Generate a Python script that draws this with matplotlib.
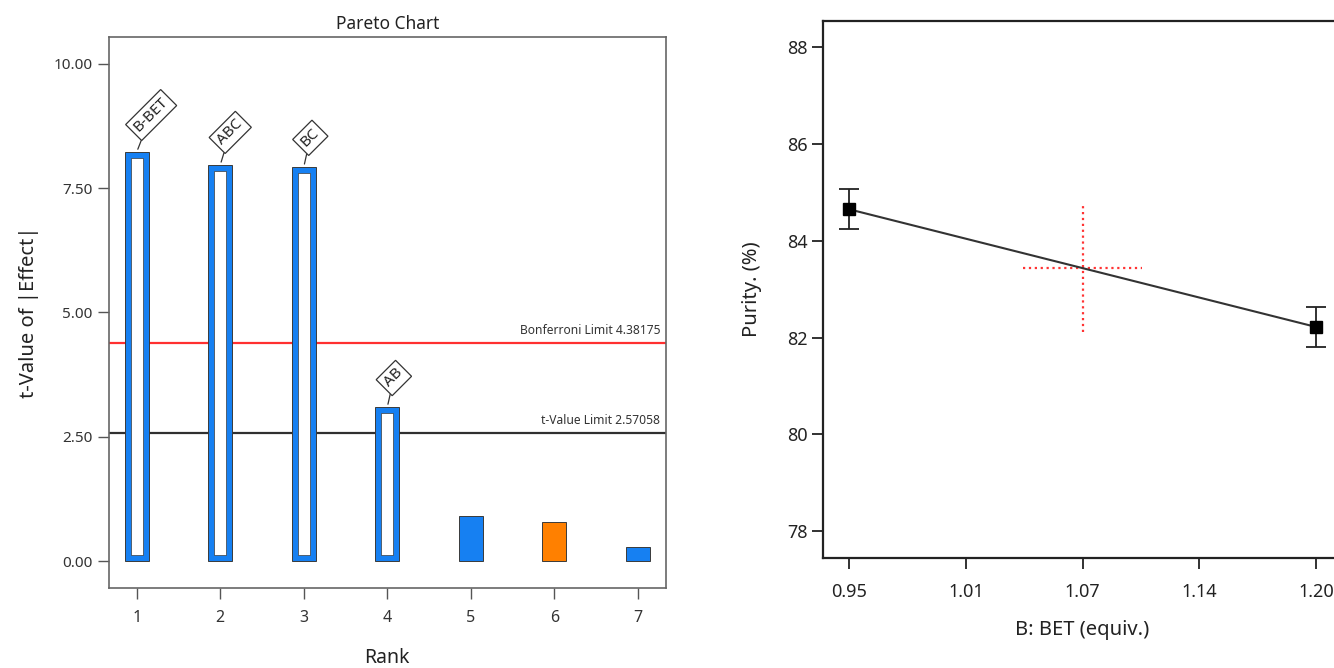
import numpy as np
import matplotlib
matplotlib.use("Agg")
import matplotlib.pyplot as plt
from matplotlib.ticker import FixedLocator, FormatStrFormatter

plt.rcParams['font.family'] = ['Noto Sans', 'DejaVu Sans']

# Pareto chart of effects
ranks = [1, 2, 3, 4, 5, 6, 7]
t_values = [8.23, 7.97, 7.93, 3.10, 0.905, 0.79, 0.29]
effect_names = ['B-BET', 'ABC', 'BC', 'AB', '', '', '']
bar_colors = ['#1680f2', '#1680f2', '#1680f2', '#1680f2', '#1680f2', '#ff8000', '#1680f2']
hollow = [True, True, True, True, False, False, False]
bonferroni_limit = 4.38175
t_limit = 2.57058

# One-factor plot: purity vs BET equivalents
bet_levels = [0.95, 1.20]
purity_mean = [84.65, 82.22]
purity_err = [0.41, 0.41]
center_x = 1.075
center_y = 83.435
center_dx = 0.032
center_dy = 1.33
bet_ticks = [0.95, 1.0125, 1.075, 1.1375, 1.20]
bet_ticklabels = ['0.95', '1.01', '1.07', '1.14', '1.20']
purity_ticks = [78, 80, 82, 84, 86, 88]

fig = plt.figure(figsize=(13.34, 6.68), dpi=100)

# ---- left: pareto chart ----
ax1 = fig.add_axes([0.0817, 0.1198, 0.4173, 0.8249])
bar_w = 0.29
pad_x, pad_y = 0.072, 0.12
ax1.bar(ranks, t_values, width=bar_w, color=bar_colors, edgecolor='#3a3a3a', linewidth=0.7, zorder=3)
for r, t, h in zip(ranks, t_values, hollow):
    if h:
        ax1.bar(r, t - 2 * pad_y, bottom=pad_y, width=bar_w - 2 * pad_x,
                color='white', edgecolor='#3a3a3a', linewidth=0.5, zorder=4)

ax1.axhline(bonferroni_limit, color='#ff3030', linewidth=1.6, zorder=2)
ax1.axhline(t_limit, color='#303030', linewidth=1.6, zorder=2)
ax1.text(7.27, bonferroni_limit + 0.12, f'Bonferroni Limit {bonferroni_limit}',
         ha='right', va='bottom', fontsize=8.7, color='#333333')
ax1.text(7.27, t_limit + 0.12, f't-Value Limit {t_limit}',
         ha='right', va='bottom', fontsize=8.7, color='#333333')

for r, t, name in zip(ranks, t_values, effect_names):
    if not name:
        continue
    ax1.annotate(name, xy=(r, t), xytext=(3.5, 12), textcoords='offset points',
                 rotation=45, rotation_mode='anchor', ha='left', va='bottom',
                 fontsize=11, color='#222222',
                 bbox=dict(boxstyle='square,pad=0.25', fc='white', ec='#333333', lw=0.9),
                 arrowprops=dict(arrowstyle='-', color='#333333', lw=0.9,
                                 shrinkA=0, shrinkB=2))

ax1.set_xlim(0.667, 7.333)
ax1.set_ylim(-0.54, 10.54)
ax1.set_xticks(ranks)
ax1.yaxis.set_major_locator(FixedLocator([0, 2.5, 5, 7.5, 10]))
ax1.yaxis.set_major_formatter(FormatStrFormatter('%.2f'))
ax1.tick_params(direction='out', length=8, width=1.0, color='#555555',
                labelsize=11, labelcolor='#333333', pad=4)
ax1.tick_params(axis='x', pad=8, labelsize=11.5)
for s in ax1.spines.values():
    s.set_color('#666666')
    s.set_linewidth(1.2)
ax1.set_title('Pareto Chart', fontsize=12.5, color='#222222', pad=6)
ax1.set_xlabel('Rank', fontsize=14, color='#222222', labelpad=16)
ax1.set_ylabel('t-Value of |Effect|', fontsize=14.5, color='#222222', labelpad=10)

# ---- right: one factor plot ----
ax2 = fig.add_axes([0.617, 0.165, 0.389, 0.8035])
ax2.plot(bet_levels, purity_mean, color='#333333', linewidth=1.5, zorder=3)
ax2.errorbar(bet_levels, purity_mean, yerr=purity_err, fmt='s', color='black',
             markersize=8, ecolor='#222222', elinewidth=1.3, capsize=7, capthick=1.3, zorder=4)
ax2.plot([center_x - center_dx, center_x + center_dx], [center_y, center_y],
         color='#ff3333', linestyle=':', linewidth=1.6, zorder=2)
ax2.plot([center_x, center_x], [center_y - center_dy, center_y + center_dy],
         color='#ff3333', linestyle=':', linewidth=1.6, zorder=2)

ax2.set_xlim(0.936, 1.214)
ax2.set_ylim(77.45, 88.54)
ax2.xaxis.set_major_locator(FixedLocator(bet_ticks))
ax2.set_xticklabels(bet_ticklabels)
ax2.yaxis.set_major_locator(FixedLocator(purity_ticks))
ax2.tick_params(direction='out', length=8, width=1.3, color='#222222',
                labelsize=13, labelcolor='#222222', pad=3)
ax2.tick_params(axis='x', pad=10)
for s in ax2.spines.values():
    s.set_color('#222222')
    s.set_linewidth(1.6)
ax2.set_xlabel('B: BET (equiv.)', fontsize=14.5, color='#222222', labelpad=14)
ax2.set_ylabel('Purity. (%)', fontsize=14.5, color='#222222', labelpad=18)

fig.savefig('out.png', dpi=100)
